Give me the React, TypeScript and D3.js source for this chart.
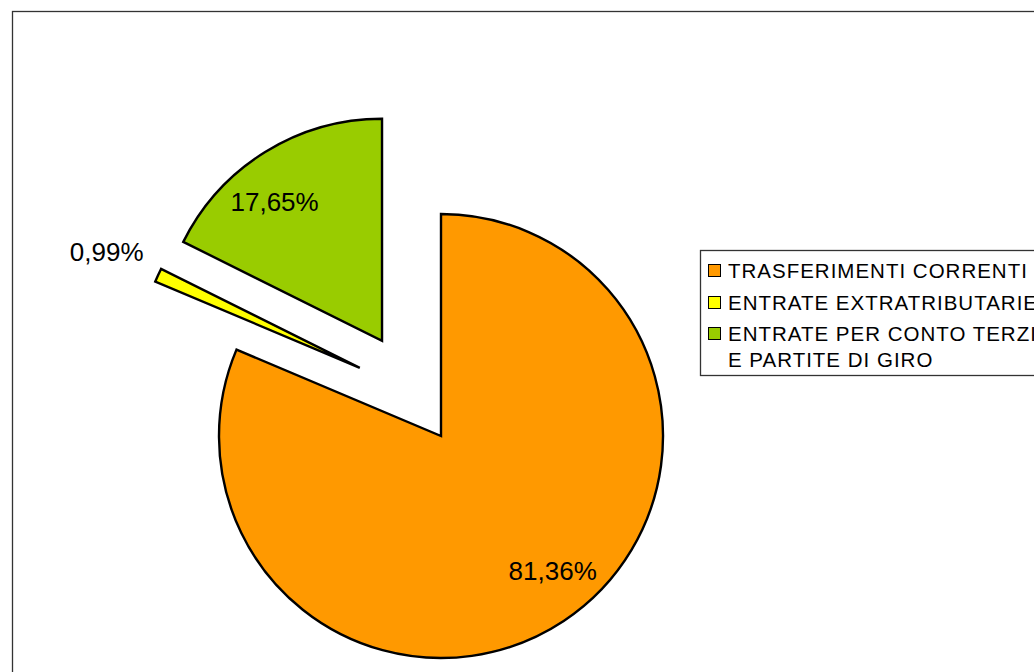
import React from "react";
import * as d3 from "d3";

const categories = ["TRASFERIMENTI CORRENTI", "ENTRATE EXTRATRIBUTARIE", "ENTRATE PER CONTO TERZI"];
const legendLines = [["TRASFERIMENTI CORRENTI"], ["ENTRATE EXTRATRIBUTARIE"], ["ENTRATE PER CONTO TERZI", "E PARTITE DI GIRO"]];
const values = [81.36, 0.99, 17.65];
const valueLabels = ["81,36%", "0,99%", "17,65%"];
const colors = ["#ff9900", "#ffff00", "#99cc00"];

const W = 1034;
const H = 672;
const cx = 441;
const cy = 436;
const R = 222;
// explode: distance and optional direction (degrees, clockwise from top); null => slice mid angle
const explode = [
  { d: 0, dir: null as number | null },
  { d: 106, dir: 310 },
  { d: 112, dir: null as number | null },
];
const FONT = "'Liberation Sans', Arial, sans-serif";

export default function App() {
  const pie = d3.pie<number>().sort(null).value((v) => v).startAngle(0).endAngle(2 * Math.PI);
  const arcs = pie(values);
  const arc = d3.arc<d3.PieArcDatum<number>>().innerRadius(0).outerRadius(R);
  const toRad = Math.PI / 180;
  const labelShift = -6 * toRad;

  return (
    <div style={{ position: "fixed", left: 0, top: 0 }}>
      <svg width={W} height={H} style={{ display: "block", background: "#fff" }}>
        <rect x={12.5} y={11.5} width={1100} height={800} fill="#fff" stroke="#333" strokeWidth={1.3} />
        {arcs.map((a, i) => {
          const mid = (a.startAngle + a.endAngle) / 2;
          const dir = explode[i].dir === null ? mid : (explode[i].dir as number) * toRad;
          const ox = cx + explode[i].d * Math.sin(dir);
          const oy = cy - explode[i].d * Math.cos(dir);
          return (
            <g key={i} transform={`translate(${ox},${oy})`}>
              <path d={arc(a) || ""} fill={colors[i]} stroke="#000" strokeWidth={2.4} strokeLinejoin="miter" />
            </g>
          );
        })}
        {arcs.map((a, i) => {
          const mid = (a.startAngle + a.endAngle) / 2;
          const dir = explode[i].dir === null ? mid : (explode[i].dir as number) * toRad;
          const ox = cx + explode[i].d * Math.sin(dir);
          const oy = cy - explode[i].d * Math.cos(dir);
          const small = a.endAngle - a.startAngle < 0.2;
          if (small) {
            const lr = R + 16;
            const x = ox + lr * Math.sin(mid);
            const y = oy - lr * Math.cos(mid) - 16;
            return (
              <text key={"l" + i} x={x} y={y} textAnchor="end" dominantBaseline="central" fontFamily={FONT} fontSize={26} fill="#000">
                {valueLabels[i]}
              </text>
            );
          }
          const lr = R * 0.79;
          const ang = mid + labelShift;
          const x = ox + lr * Math.sin(ang);
          const y = oy - lr * Math.cos(ang);
          return (
            <text key={"l" + i} x={x} y={y} textAnchor="middle" dominantBaseline="central" fontFamily={FONT} fontSize={26} fill="#000">
              {valueLabels[i]}
            </text>
          );
        })}
        <g>
          <rect x={700.5} y={250.5} width={400} height={125} fill="#fff" stroke="#333" strokeWidth={1.3} />
          {(() => {
            const baselines = [278, 310, 341];
            const lineGap = 26;
            return categories.map((c, i) => (
              <g key={c}>
                <rect x={708.5} y={baselines[i] - 13.5} width={12} height={12} fill={colors[i]} stroke="#000" strokeWidth={1} />
                {legendLines[i].map((ln, j) => (
                  <text key={j} x={728} y={baselines[i] + j * lineGap} fontFamily={FONT} fontSize={20.5} letterSpacing={1} fill="#000">
                    {ln}
                  </text>
                ))}
              </g>
            ));
          })()}
        </g>
      </svg>
    </div>
  );
}
